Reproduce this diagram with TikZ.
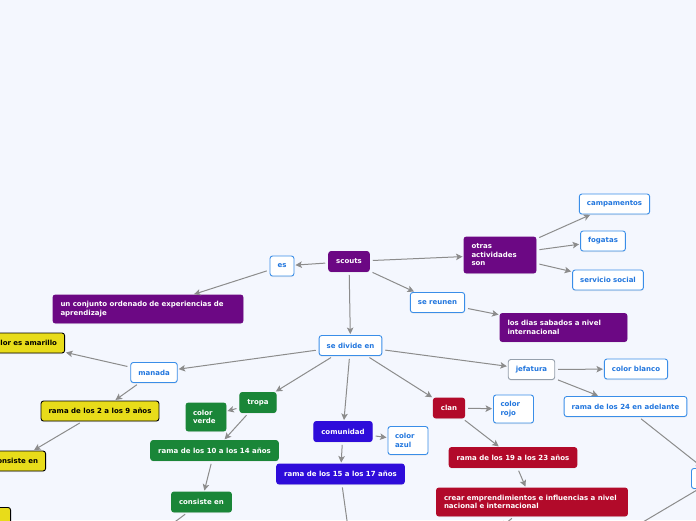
\documentclass[tikz,border=0pt]{standalone}
\usepackage{fontspec}
\setmainfont{DejaVu Sans}
\usetikzlibrary{arrows.meta,shadows}
\definecolor{bgblue}{RGB}{244,247,254}
\definecolor{scoutpurple}{RGB}{108,8,132}
\definecolor{mapblue}{RGB}{33,118,222}
\definecolor{borderblue}{RGB}{58,142,232}
\definecolor{tropagreen}{RGB}{26,134,56}
\definecolor{comviolet}{RGB}{46,12,218}
\definecolor{clanred}{RGB}{178,10,42}
\definecolor{manadayellow}{RGB}{232,220,26}
\definecolor{linkgray}{RGB}{140,140,140}
\definecolor{jefgray}{RGB}{150,160,172}
\hyphenpenalty=10000
\exhyphenpenalty=10000

\begin{document}
\begin{tikzpicture}[x=1pt,y=-1pt,
    box/.style={rounded corners=2.5pt,inner xsep=7.5pt,inner ysep=2pt,
      minimum height=20pt,line width=0.9pt,
      font=\fontsize{7}{8.5}\selectfont\bfseries,
      drop shadow={shadow xshift=0pt,shadow yshift=-1pt,opacity=0.15}},
    purplebox/.style={box,fill=scoutpurple,draw=scoutpurple,text=white},
    whitebox/.style={box,fill=white,draw=borderblue,text=mapblue},
    greenbox/.style={box,fill=tropagreen,draw=tropagreen,text=white},
    violetbox/.style={box,fill=comviolet,draw=comviolet,text=white},
    redbox/.style={box,fill=clanred,draw=clanred,text=white},
    yellowbox/.style={box,fill=manadayellow,draw=black,text=black},
    link/.style={draw=linkgray,line width=1pt,
      -{Stealth[length=6.5pt,width=6.5pt,inset=1.5pt]},
      shorten <=3pt,shorten >=1pt}]
  % page: 696 x 520 px, one px = one pt, y runs downwards
  \clip (0,0) rectangle (696,520);
  \fill[bgblue] (0,0) rectangle (696,520);

  % centre and first level
  \node[purplebox] (scouts) at (349,261.5) {scouts};
  \node[whitebox] (es) at (282,266) {es};
  \node[purplebox,text width=57pt,align=left,minimum height=36pt] (otras) at (500,255) {otras\\actividades\\son};
  \node[whitebox] (campamentos) at (614.5,204) {campamentos};
  \node[whitebox] (fogatas) at (603,241) {fogatas};
  \node[whitebox] (servicio) at (608,280) {servicio social};
  \node[whitebox] (reunen) at (437.5,302.5) {se reunen};
  \node[purplebox,text width=112pt,align=left,minimum height=28pt] (sabados) at (563.5,327.5) {los dias sabados a nivel\\internacional};
  \node[purplebox,text width=175pt,align=left,minimum height=28pt] (conjunto) at (148,309) {un conjunto ordenado de experiencias de aprendizaje};
  \node[whitebox] (divide) at (350.5,345.5) {se divide en};

  % manada (yellow)
  \node[whitebox] (manada) at (154,372.5) {manada};
  \node[yellowbox,anchor=east] (amarillo) at (65,343) {color es amarillo};
  \node[yellowbox] (rama29) at (100,411) {rama de los 2 a los 9 años};
  \node[yellowbox,anchor=east] (consisteY) at (46,461) {consiste en};
  \node[yellowbox,anchor=north east,minimum width=60pt] (yellowlow) at (11,507) {};

  % tropa (green)
  \node[greenbox] (tropa) at (258,402.5) {tropa};
  \node[greenbox,text width=26pt,align=left,minimum height=28pt,inner xsep=7pt] (verde) at (206,417) {color\\verde};
  \node[greenbox] (rama1014) at (214.5,450.5) {rama de los 10 a los 14 años};
  \node[greenbox] (consisteG) at (201.5,502) {consiste en};

  % comunidad (violet)
  \node[violetbox] (comunidad) at (343,431.5) {comunidad};
  \node[whitebox,text width=26pt,align=left,minimum height=28pt,inner xsep=7pt] (azul) at (408,440.5) {color\\azul};
  \node[violetbox] (rama1517) at (340.5,474) {rama de los 15 a los 17 años};

  % clan (red)
  \node[redbox] (clan) at (449,408) {clan};
  \node[whitebox,text width=26pt,align=left,minimum height=28pt,inner xsep=7pt] (rojo) at (513.5,409) {color\\rojo};
  \node[redbox] (rama1923) at (513,457.5) {rama de los 19 a los 23 años};
  \node[redbox,text width=176pt,align=left,minimum height=28pt] (crear) at (532,502) {crear emprendimientos e influencias a nivel nacional e internacional};

  % jefatura
  \node[whitebox,draw=jefgray] (jefatura) at (531.5,369.5) {jefatura};
  \node[whitebox] (blanco) at (636,369) {color blanco};
  \node[whitebox] (rama24) at (625.5,406.5) {rama de los 24 en adelante};
  \node[whitebox,anchor=north west,minimum width=50pt] (rightnode) at (691,468) {};

  % loose ends below the page
  \coordinate (downG) at (160,533);
  \coordinate (downV) at (349,535);
  \coordinate (downR) at (500,528);
  \coordinate (downW) at (616,538);

  % connectors
  \foreach \a/\b in {scouts/es, es/conjunto, scouts/otras, otras/campamentos,
      otras/fogatas, otras/servicio, scouts/reunen, reunen/sabados,
      scouts/divide, divide/manada, divide/tropa, divide/comunidad,
      divide/clan, divide/jefatura, manada/amarillo, manada/rama29,
      rama29/consisteY, tropa/verde, tropa/rama1014, rama1014/consisteG,
      consisteG/downG, comunidad/azul, comunidad/rama1517, rama1517/downV,
      clan/rojo, clan/rama1923, rama1923/crear, crear/downR,
      jefatura/blanco, jefatura/rama24, rama24/rightnode, rightnode/downW}
    \draw[link] (\a) -- (\b);
\end{tikzpicture}
\end{document}
